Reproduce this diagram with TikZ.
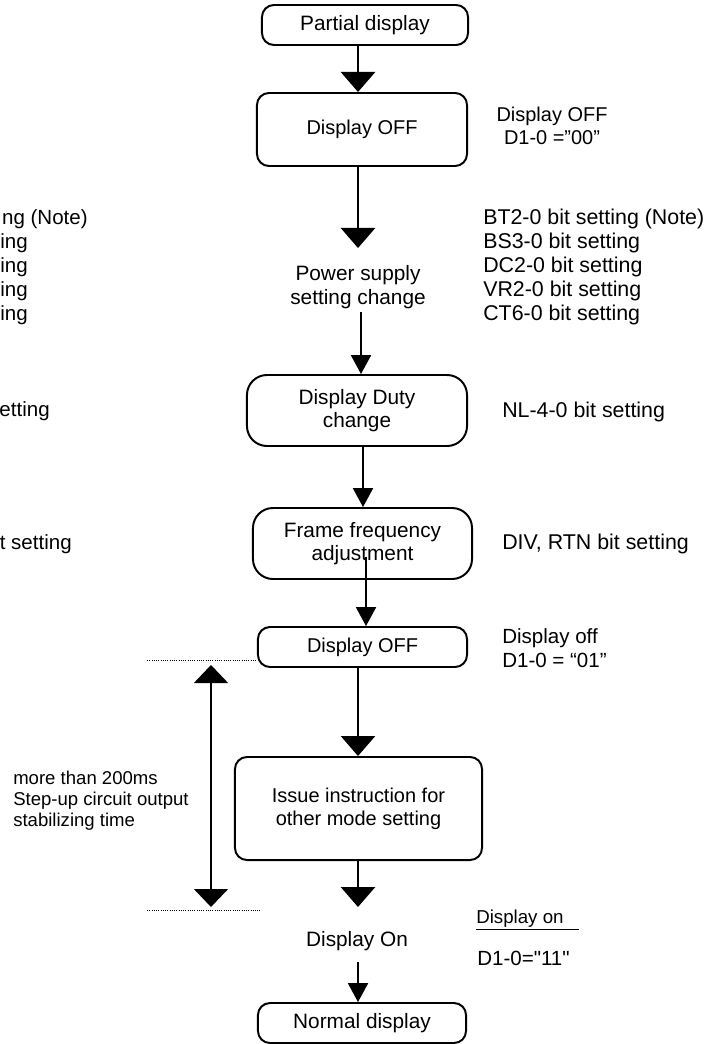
\documentclass[tikz,border=0pt]{standalone}
\usepackage{fontspec}
\setmainfont{Liberation Sans}
\newfontfamily\plainquotes{Liberation Sans}
\usetikzlibrary{arrows.meta,calc}
\newcommand\flowfont{\fontsize{14.8}{16.6}\selectfont}
\newcommand\flowsmallfont{\fontsize{14.2}{16.4}\selectfont}
\newcommand\notefont{\fontsize{14.6}{17.07}\selectfont}
\newcommand\bitfont{\fontsize{15.2}{17.07}\selectfont}
\newcommand\spanfont{\fontsize{13.2}{14.9}\selectfont}
\tikzset{
    flow box/.style={
        draw,
        line width=1.4pt,
        rounded corners=0.3cm,
        align=center,
        inner sep=0pt,
        font=\flowfont
    },
    flow box round/.style={flow box, rounded corners=0.5cm},
    flow label/.style={align=center, inner sep=0pt, font=\flowfont},
    side note/.style={align=left, inner sep=0pt, font=\notefont},
    side note center/.style={align=center, inner sep=0pt, font=\notefont},
    flow arrow/.style={-{Triangle[length=5mm,width=8.5mm]}, line width=2pt},
    flow arrow thin/.style={-{Triangle[length=4.7mm,width=5mm]}, line width=1.1pt},
    time span/.style={{Triangle[length=4.5mm,width=8.5mm]}-{Triangle[length=4.5mm,width=8.5mm]}, line width=1.2pt},
    time mark/.style={densely dotted, line width=0.6pt}
}

\begin{document}
\begin{tikzpicture}[x=0.025cm,y=-0.025cm]
    \useasboundingbox (0,0) rectangle (715,1044);

    % main flow
    \node[flow box, minimum width=5.15cm, minimum height=1.0cm] (partial) at (365,25) {Partial display};
    \node[flow box, font=\flowsmallfont, minimum width=5.25cm, minimum height=1.825cm] (off1) at (362,129.5) {Display OFF};
    \node[flow label] (power) at (358,287) {Power supply\\setting change};
    \node[flow box round, minimum width=5.5cm, minimum height=1.775cm] (duty) at (357,410.5) {Display Duty\\change};
    \node[flow box round, minimum width=5.475cm, minimum height=1.775cm] (frame) at (362.5,543.5) {Frame frequency\\adjustment};
    \node[flow box, font=\flowsmallfont, minimum width=5.225cm, minimum height=1.0cm] (off2) at (362.5,647) {Display OFF};
    \node[flow box, font=\flowsmallfont, minimum width=6.175cm, minimum height=2.575cm] (issue) at (358.5,808.5) {Issue instruction for\\other mode setting};
    \node[flow label] (on) at (357,941) {Display On};
    \node[flow box, minimum width=5.2cm, minimum height=1.0cm] (normal) at (362,1023) {Normal display};

    \draw[flow arrow] ($(partial.south)+(-7,0)$) -- ($(off1.north)+(-4,0)$);
    \draw[flow arrow] ($(off1.south)+(-4,0)$) -- ($(power.center)+(0,-39)$);
    \draw[flow arrow thin] ($(power.center)+(3,25)$) -- ($(duty.north)+(4,0)$);
    \draw[flow arrow thin] ($(duty.south)+(6,0)$) -- ($(frame.north)+(0.5,0)$);
    \draw[flow arrow thin] ($(frame.center)+(3.5,13)$) -- ($(off2.north)+(3.5,0)$);
    \draw[flow arrow] ($(off2.south)+(-4.5,0)$) -- ($(issue.north)+(-0.5,0)$);
    \draw[flow arrow] ($(issue.south)+(-0.5,0)$) -- ($(on.center)+(1,-34)$);
    \draw[flow arrow thin] ($(on.center)+(1,21)$) -- ($(normal.north)+(-4,0)$);

    % settings on the right
    \node[side note center, font=\flowsmallfont] (offnote1) at (552,126) {Display OFF\\D1-0 =”00”};
    \node[side note, font=\bitfont, anchor=west] (bitnote) at (483,267) {BT2-0 bit setting (Note)\\BS3-0 bit setting\\DC2-0 bit setting\\VR2-0 bit setting\\CT6-0 bit setting};
    \node[side note, font=\bitfont, anchor=west] (dutynote) at (502,412) {NL-4-0 bit setting};
    \node[side note, font=\bitfont, anchor=west] (framenote) at (502,544) {DIV, RTN bit setting};
    \node[side note, anchor=west] (offnote2) at (502,648) {Display off\\D1-0 = “01”};
    \node[side note, font=\fontsize{13.3}{15}\selectfont, anchor=west] (onnote) at (476,920) {\underline{Display on\hspace{0.375cm}}};
    \node[side note, anchor=west] (onvalue) at (477,958) {\plainquotes D1-0="11"};

    % cut-off column on the left
    \node[side note, anchor=east] (cut1) at (88,219) {ng (Note)};
    \foreach \y/\name in {243/cut2,267/cut3,291/cut4,315/cut5} {
        \node[side note, anchor=east] (\name) at (28,\y) {ing};
    }
    \node[side note, anchor=east] (cut6) at (50,411) {etting};
    \node[side note, anchor=east] (cut7) at (72,544) {t setting};

    % stabilizing time
    \coordinate (marktop) at (147,660);
    \coordinate (markbot) at (147,910);
    \coordinate (markbotend) at (260,910);
    \coordinate (spantop) at (211,665);
    \coordinate (spanbot) at (211,907);
    \draw[time mark] (marktop) -- (marktop -| off2.west);
    \draw[time mark] (markbot) -- (markbotend);
    \draw[time span] (spanbot) -- (spantop);
    \node[align=left, inner sep=0pt, font=\spanfont, anchor=west] (spannote) at (13,801) {more than 200ms\\Step-up circuit output\\stabilizing time};
\end{tikzpicture}
\end{document}
